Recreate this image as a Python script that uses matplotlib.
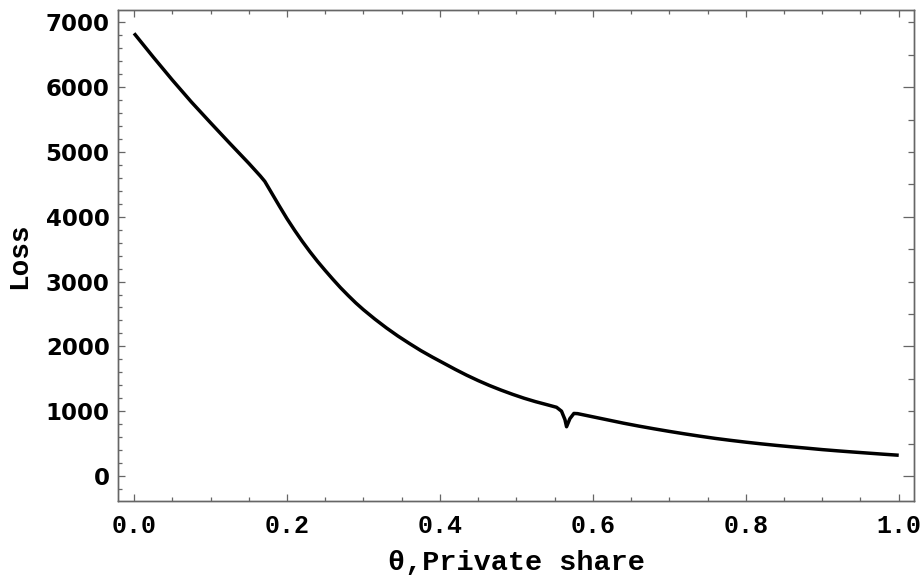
import matplotlib.pyplot as plt
from matplotlib.ticker import MultipleLocator, NullFormatter

# Loss as a function of the private share theta
theta = [0.0, 0.025, 0.05, 0.075, 0.10, 0.125, 0.15, 0.165, 0.171,
         0.18, 0.19, 0.20, 0.21, 0.22, 0.23, 0.24, 0.25, 0.26, 0.27,
         0.28, 0.29, 0.30, 0.315, 0.33, 0.345, 0.36, 0.375, 0.39, 0.405,
         0.42, 0.435, 0.45, 0.465, 0.48, 0.495, 0.51, 0.525, 0.54, 0.5525,
         0.559, 0.5635, 0.5656, 0.570, 0.5752, 0.58, 0.60, 0.62, 0.64,
         0.66, 0.68, 0.70, 0.72, 0.74, 0.76, 0.78, 0.80, 0.82, 0.84,
         0.86, 0.88, 0.90, 0.92, 0.94, 0.96, 0.98, 1.0]
loss = [6830, 6465, 6110, 5770, 5450, 5135, 4825, 4630, 4545,
        4365, 4165, 3970, 3790, 3620, 3460, 3310, 3170, 3035, 2905,
        2785, 2670, 2565, 2420, 2285, 2160, 2045, 1935, 1835, 1740,
        1645, 1555, 1472, 1395, 1325, 1260, 1200, 1147, 1100, 1060,
        1000, 870, 760, 885, 965, 962, 913, 864, 815, 770,
        728, 688, 650, 614, 580, 550, 522, 496, 472,
        450, 429, 407, 388, 370, 353, 336, 320]

mono = "Liberation Mono"
frame = "#666666"

fig = plt.figure(figsize=(9.24, 5.8), dpi=100)
ax = fig.add_axes([0.1277, 0.1362, 0.8615, 0.8466])

ax.plot(theta, loss, color="black", linewidth=2.5,
        solid_joinstyle="round", solid_capstyle="butt")

ax.set_xlim(-0.021, 1.02)
ax.set_ylim(-386, 7190)

ax.xaxis.set_major_locator(MultipleLocator(0.2))
ax.xaxis.set_minor_locator(MultipleLocator(0.05))
ax.yaxis.set_major_locator(MultipleLocator(1000))
ax.yaxis.set_minor_locator(MultipleLocator(200))

ax.tick_params(which="both", direction="in", color=frame, width=0.9,
               top=True, right=False)
ax.tick_params(which="major", length=5)
ax.tick_params(which="minor", length=2.6)
ax.tick_params(axis="x", pad=9)
ax.tick_params(axis="y", pad=6)

ax.set_xticklabels([f"{v:.1f}" for v in ax.get_xticks()])
for lab in ax.get_xticklabels():
    lab.set_fontfamily(mono)
    lab.set_fontweight("bold")
    lab.set_fontsize(18)
for lab in ax.get_yticklabels():
    lab.set_fontfamily("DejaVu Sans")
    lab.set_fontweight("bold")
    lab.set_fontsize(16.5)

# right-hand frame ticks use their own spacing
rax = ax.twinx()
rax.set_ylim(ax.get_ylim())
rax.yaxis.set_major_locator(MultipleLocator(2000))
rax.yaxis.set_minor_locator(MultipleLocator(500))
rax.yaxis.set_major_formatter(NullFormatter())
rax.tick_params(which="both", direction="in", color=frame, width=0.9)
rax.tick_params(which="major", length=8)
rax.tick_params(which="minor", length=4)

for a in (ax, rax):
    for s in a.spines.values():
        s.set_color(frame)
        s.set_linewidth(1.0)

ax.set_xlabel("\u03b8,Private share", fontfamily=mono, fontweight="bold",
              fontsize=20.5, labelpad=9)
ax.set_ylabel("Loss", fontfamily=mono, fontweight="bold", fontsize=20,
              labelpad=10)

fig.savefig("out.png", dpi=100)
